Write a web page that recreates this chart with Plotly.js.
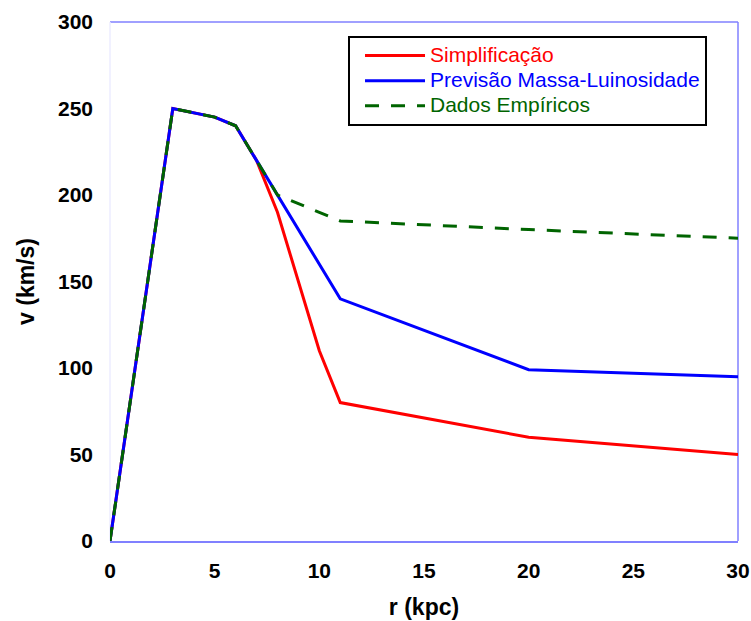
<!DOCTYPE html>
<html>
<head>
<meta charset="utf-8">
<script src="https://cdn.plot.ly/plotly-3.0.1.min.js"></script>
<style>html,body{margin:0;padding:0;background:#fff;}#chart{width:751px;height:621px;}</style>
</head>
<body>
<div id="chart"></div>
<script>
const rSimp = [0, 3, 5, 6, 7, 8, 10, 11, 20, 30];
const vSimp = [0, 250, 245, 240, 220, 190, 110, 80, 60, 50];
const rPrev = [0, 3, 5, 6, 7, 11, 20, 30];
const vPrev = [0, 250, 245, 240, 220, 140, 99, 95];
const rDados = [0, 3, 5, 6, 7, 8, 10, 11, 20, 30];
const vDados = [0, 250, 245, 240, 220, 200, 190, 185, 180, 175];
const names = ['Simplificação', 'Previsão Massa-Luinosidade', 'Dados Empíricos'];
const colors = ['#ff0000', '#0000ff', '#006400'];
const xTicks = [0, 5, 10, 15, 20, 25, 30];
const yTicks = [0, 50, 100, 150, 200, 250, 300];

const FONT = 'Arial, "Liberation Sans", sans-serif';
function legName(i) {
  return '<span style="color:' + colors[i] + ';font-size:21px">' + names[i] + '</span>';
}
const traces = [
  {x: rSimp, y: vSimp, mode: 'lines', name: legName(0), line: {color: colors[0], width: 3}},
  {x: rPrev, y: vPrev, mode: 'lines', name: legName(1), line: {color: colors[1], width: 3}},
  {x: rDados, y: vDados, mode: 'lines', name: legName(2), line: {color: colors[2], width: 3, dash: '14px,12px'}}
];
const layout = {
  width: 751, height: 621,
  margin: {l: 110, r: 13, t: 22, b: 80},
  paper_bgcolor: '#fff', plot_bgcolor: '#fff',
  font: {family: FONT, color: '#000'},
  showlegend: true,
  legend: {x: 0.379, y: 0.973, xanchor: 'left', yanchor: 'top', bgcolor: '#fff', bordercolor: '#000', borderwidth: 2,
           font: {family: FONT, size: 17}, itemwidth: 60, tracegroupgap: 0, indentation: 10},
  xaxis: {range: [0, 30], tickvals: xTicks, ticktext: xTicks.map(String), ticks: '', showgrid: false, zeroline: false,
          showline: true, linecolor: '#8080ff', linewidth: 1.5,
          tickfont: {family: FONT, size: 21, color: '#000', weight: 'bold'}, ticklabelstandoff: 10,
          title: {text: '<b>r (kpc)</b>', font: {family: FONT, size: 23, color: '#000'}, standoff: 18}},
  yaxis: {range: [0, 300], tickvals: yTicks, ticktext: yTicks.map(String), ticks: '', showgrid: false, zeroline: false,
          showline: false,
          tickfont: {family: FONT, size: 21, color: '#000', weight: 'bold'}, ticklabelstandoff: 16,
          title: {text: '<b>v (km/s)</b>', font: {family: FONT, size: 23, color: '#000'}, standoff: 16}},
  shapes: [
    {type: 'line', xref: 'paper', yref: 'paper', x0: 0, x1: 1, y0: 1, y1: 1, line: {color: '#8080ff', width: 1.5}, layer: 'below'},
    {type: 'line', xref: 'paper', yref: 'paper', x0: 1, x1: 1, y0: 0, y1: 1, line: {color: '#8080ff', width: 1.5}, layer: 'below'},
    {type: 'line', xref: 'paper', yref: 'paper', x0: 0, x1: 0, y0: 0, y1: 1, line: {color: '#ececff', width: 1.5}, layer: 'below'}
  ]
};
Plotly.newPlot('chart', traces, layout, {displayModeBar: false, staticPlot: true});
</script>
</body>
</html>
